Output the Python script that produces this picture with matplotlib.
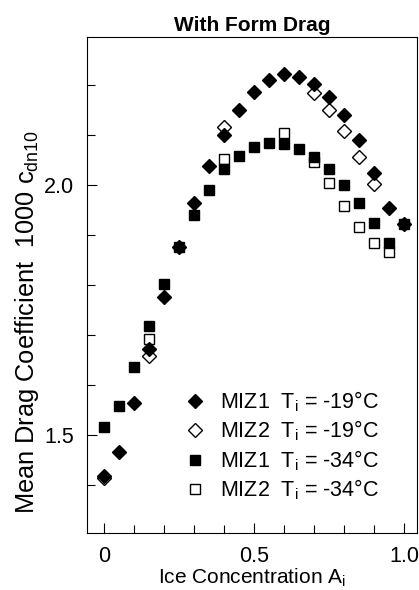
import matplotlib
matplotlib.use("Agg")
import matplotlib.pyplot as plt
from matplotlib.ticker import MultipleLocator

plt.rcParams['font.family'] = ['Liberation Sans', 'DejaVu Sans']
plt.rcParams['mathtext.fontset'] = 'custom'
plt.rcParams['mathtext.rm'] = 'Liberation Sans'
plt.rcParams['mathtext.it'] = 'Liberation Sans:italic'

# Ice concentration for the MIZ1 runs
ice_conc = [0.0, 0.05, 0.1, 0.15, 0.2, 0.25, 0.3, 0.35, 0.4, 0.45, 0.5,
            0.55, 0.6, 0.65, 0.7, 0.75, 0.8, 0.85, 0.9, 0.95, 1.0]
miz1_19 = [1.418, 1.466, 1.564, 1.672, 1.776, 1.876, 1.964, 2.038, 2.100, 2.150, 2.186,
           2.210, 2.222, 2.216, 2.202, 2.176, 2.140, 2.090, 2.024, 1.954, 1.922]
miz1_34 = [1.516, 1.558, 1.636, 1.718, 1.802, 1.876, 1.940, 1.990, 2.032, 2.058, 2.076,
           2.084, 2.082, 2.072, 2.056, 2.032, 2.000, 1.964, 1.924, 1.884, 1.922]

# MIZ2 runs only at some concentrations
miz2_19_conc = [0.0, 0.15, 0.4, 0.7, 0.75, 0.8, 0.85, 0.9]
miz2_19 = [1.414, 1.658, 2.116, 2.184, 2.150, 2.108, 2.056, 2.002]
miz2_34_conc = [0.15, 0.4, 0.6, 0.7, 0.75, 0.8, 0.85, 0.9, 0.95]
miz2_34 = [1.692, 2.052, 2.104, 2.046, 2.004, 1.958, 1.916, 1.884, 1.866]

labels = [r'MIZ1  T$_\mathrm{i}$ = -19°C', r'MIZ2  T$_\mathrm{i}$ = -19°C',
          r'MIZ1  T$_\mathrm{i}$ = -34°C', r'MIZ2  T$_\mathrm{i}$ = -34°C']

fig = plt.figure(figsize=(4.19, 5.90), dpi=100)
ax = fig.add_axes([0.2076, 0.0966, 0.7876, 0.8407])

fs = 15.5
# filled markers sit on top of the open ones, diamonds on top of squares
h1, = ax.plot(ice_conc, miz1_19, 'D', ms=7, mfc='black', mec='black', mew=1, zorder=5, label=labels[0])
h2, = ax.plot(miz2_19_conc, miz2_19, 'D', ms=7, mfc='white', mec='black', mew=1, zorder=4, label=labels[1])
h3, = ax.plot(ice_conc, miz1_34, 's', ms=7, mfc='black', mec='black', mew=1, zorder=3, label=labels[2])
h4, = ax.plot(miz2_34_conc, miz2_34, 's', ms=7, mfc='white', mec='black', mew=1, zorder=2, label=labels[3])

ax.set_xlim(-0.057, 1.043)
ax.set_ylim(1.304, 2.296)

ax.xaxis.set_minor_locator(MultipleLocator(0.1))
ax.yaxis.set_minor_locator(MultipleLocator(0.1))
ax.set_xticks([0, 0.5, 1.0])
ax.set_xticklabels(['0', '0.5', '1.0'])
ax.set_yticks([1.5, 2.0])
ax.set_yticklabels(['1.5', '2.0'])

ax.tick_params(which='both', direction='in', top=False, right=False, labelsize=fs, width=0.8)
ax.tick_params(which='major', length=7, pad=9)
ax.tick_params(which='minor', length=6)
for sp in ax.spines.values():
    sp.set_linewidth(0.8)

ax.set_xlabel(r'Ice Concentration A$_\mathrm{i}$', fontsize=15, labelpad=0)
fig.text(27 / 419, 1 - 322 / 590, r'Mean Drag Coefficient  1000 c$_\mathrm{dn10}$',
         rotation=90, ha='center', va='center', fontsize=18.3)
ax.set_title('With Form Drag', fontsize=15, fontweight='bold', pad=4.5)

ax.legend(handles=[h1, h2, h3, h4], loc='upper left', bbox_to_anchor=(0.294, 0.29),
          frameon=False, fontsize=fs, handlelength=1.0, handletextpad=0.66,
          labelspacing=0.23, borderpad=0, borderaxespad=0)

fig.savefig('out.png', dpi=100)
